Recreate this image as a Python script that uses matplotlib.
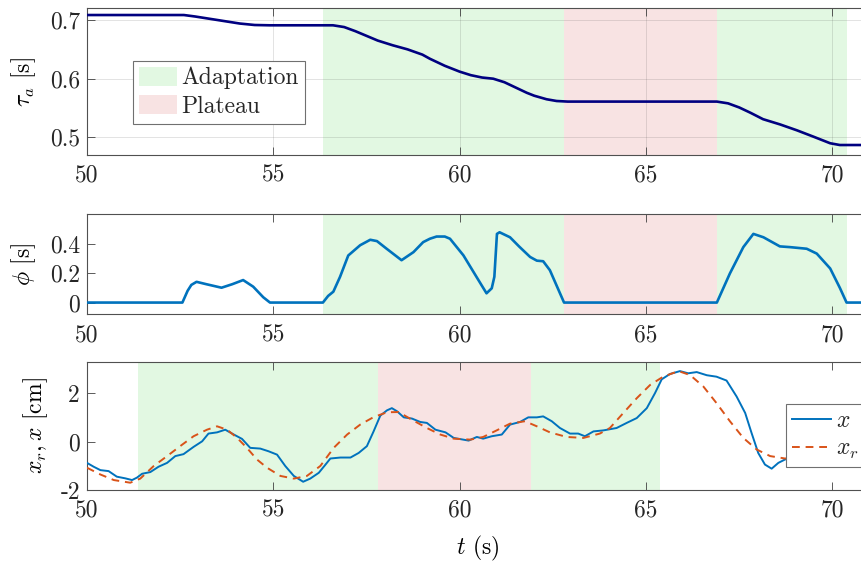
import matplotlib
matplotlib.use("Agg")
import matplotlib.pyplot as plt
from matplotlib.patches import Patch

# tau_a estimate
tau_t = [50, 52.6, 52.9, 53.3, 53.7, 54.1, 54.5, 54.9, 56.6, 56.9, 57.2, 57.5, 57.8, 58.2, 58.6,
         59.0, 59.2, 59.6, 60.0, 60.3, 60.6, 60.9, 61.2, 61.5, 61.8, 62.0, 62.33, 62.6, 62.9,
         66.9, 67.2, 67.5, 67.8, 68.14, 68.6, 69.05, 69.5, 69.94, 70.2, 70.4, 71.0]
tau_v = [0.7085, 0.7085, 0.706, 0.702, 0.698, 0.694, 0.6915, 0.691, 0.691, 0.688, 0.681, 0.673,
         0.665, 0.657, 0.650, 0.641, 0.634, 0.622, 0.612, 0.606, 0.602, 0.600, 0.594, 0.585,
         0.576, 0.571, 0.565, 0.562, 0.561,
         0.561, 0.558, 0.551, 0.542, 0.531, 0.522, 0.512, 0.501, 0.490, 0.487, 0.487, 0.487]

# phi estimate
phi_t = [50, 52.56, 52.7, 52.8, 52.94, 53.2, 53.61, 53.9, 54.19, 54.46, 54.73, 54.91,
         56.33, 56.47, 56.61, 56.79, 57.01, 57.33, 57.6, 57.78, 58.04, 58.44, 58.76, 59.02,
         59.2, 59.38, 59.6, 59.74, 60.1, 60.45, 60.72, 60.86, 60.93, 61.0, 61.07, 61.35, 61.6,
         61.89, 62.07, 62.24, 62.42, 62.8,
         66.9, 67.25, 67.61, 67.88, 68.15, 68.59, 68.86, 69.31, 69.58, 69.94, 70.2, 70.38, 71.0]
phi_v = [0, 0, 0.08, 0.12, 0.141, 0.125, 0.101, 0.125, 0.153, 0.108, 0.036, 0,
         0, 0.045, 0.074, 0.175, 0.32, 0.39, 0.427, 0.418, 0.366, 0.288, 0.343, 0.411,
         0.434, 0.449, 0.449, 0.434, 0.321, 0.175, 0.063, 0.097, 0.175, 0.467, 0.478, 0.444, 0.38,
         0.31, 0.285, 0.281, 0.22, 0,
         0, 0.198, 0.377, 0.467, 0.444, 0.382, 0.377, 0.366, 0.333, 0.232, 0.1, 0, 0]

# position x
x_t = [50, 50.18, 50.36, 50.58, 50.8, 51.03, 51.21, 51.34, 51.48, 51.7, 51.92, 52.15, 52.37,
       52.59, 52.86, 53.09, 53.26, 53.49, 53.71, 53.94, 54.16, 54.38, 54.65, 54.87, 55.1,
       55.32, 55.55, 55.8, 55.99, 56.22, 56.4, 56.53, 56.8, 57.07, 57.29, 57.51, 57.69, 57.87,
       58.05, 58.18, 58.32, 58.5, 58.72, 58.94, 59.12, 59.35, 59.62, 59.84, 60.24, 60.46,
       60.63, 60.86, 61.13, 61.35, 61.62, 61.84, 62.07, 62.24, 62.47, 62.69, 62.96, 63.18,
       63.36, 63.59, 63.85, 64.21, 64.48, 64.75, 65.02, 65.24, 65.42, 65.64, 65.91, 66.13,
       66.36, 66.63, 66.89, 67.16, 67.43, 67.66, 67.83, 68.01, 68.19, 68.37, 68.55, 68.73,
       69.2, 69.8, 70.3, 71.0]
x_v = [-0.88, -1.04, -1.18, -1.22, -1.45, -1.52, -1.59, -1.49, -1.33, -1.26, -1.04, -0.88, -0.60,
       -0.52, -0.22, 0.01, 0.33, 0.38, 0.49, 0.29, 0.11, -0.26, -0.29, -0.40, -0.54,
       -1.01, -1.42, -1.66, -1.53, -1.29, -0.95, -0.70, -0.66, -0.66, -0.47, -0.19, 0.42, 1.07,
       1.29, 1.38, 1.25, 1.00, 0.95, 0.81, 0.77, 0.49, 0.38, 0.15, 0.04, 0.19,
       0.12, 0.22, 0.29, 0.70, 0.81, 1.00, 1.00, 1.04, 0.84, 0.56, 0.33, 0.33,
       0.22, 0.42, 0.46, 0.56, 0.77, 0.97, 1.38, 2.00, 2.57, 2.79, 2.91, 2.82,
       2.87, 2.74, 2.68, 2.52, 1.86, 1.18, 0.36, -0.47, -0.95, -1.12, -0.88, -0.74,
       -0.5, -0.2, 0.2, 0.42]

# reference x_r
xr_t = [50, 50.36, 50.72, 51.16, 51.43, 51.79, 52.15, 52.5, 52.86, 53.22, 53.49, 53.76, 54.03,
        54.29, 54.56, 54.83, 55.19, 55.55, 55.9, 56.26, 56.62, 56.98, 57.33, 57.69, 58.05,
        58.36, 58.72, 59.12, 59.48, 59.84, 60.29, 60.63, 60.99, 61.35, 61.75, 62.07, 62.42,
        62.87, 63.32, 63.76, 64.03, 64.39, 64.75, 65.11, 65.46, 65.87, 66.18, 66.54, 66.89,
        67.25, 67.61, 67.97, 68.33, 68.73, 69.3, 69.8, 70.3, 71.0]
xr_v = [-1.08, -1.36, -1.59, -1.70, -1.53, -1.01, -0.60, -0.19, 0.22, 0.49, 0.63, 0.49, 0.15,
        -0.26, -0.74, -1.08, -1.42, -1.53, -1.42, -1.01, -0.26, 0.29, 0.70, 1.01, 1.21,
        1.22, 0.90, 0.56, 0.29, 0.12, 0.08, 0.19, 0.46, 0.74, 0.84, 0.63, 0.38,
        0.19, 0.15, 0.33, 0.56, 1.18, 1.79, 2.34, 2.68, 2.91, 2.75, 2.27, 1.59,
        0.84, 0.15, -0.33, -0.60, -0.70, -0.6, -0.2, 0.2, 0.45]

# phases (start, end)
adapt_top = [(56.33, 62.80), (66.90, 70.38)]
plateau_top = [(62.80, 66.90)]
adapt_bot = [(51.36, 57.80), (61.90, 65.38)]
plateau_bot = [(57.80, 61.90)]

xticks = [50, 55, 60, 65, 70]
tau_ticks = [0.5, 0.6, 0.7]
phi_ticks = [0, 0.2, 0.4]
phi_ticklabels = ['0', '0.2', '0.4']
x_ticks = [-2, 0, 2]

green = '#e2f8e2'
pink = '#f8e3e3'
blue = '#0072bd'
orange = '#d95319'
navy = '#000080'

plt.rcParams['font.family'] = 'serif'
plt.rcParams['font.serif'] = ['cmr10']
plt.rcParams['mathtext.fontset'] = 'cm'
plt.rcParams['axes.unicode_minus'] = False
plt.rcParams['font.size'] = 17
plt.rcParams['text.color'] = '#262626'

fig = plt.figure(figsize=(8.62, 5.63), dpi=100)
left, width = 0.1009, 0.908
ax1 = fig.add_axes([left, 0.7247, width, 0.2606])
ax2 = fig.add_axes([left, 0.4417, width, 0.1776])
ax3 = fig.add_axes([left, 0.1297, width, 0.2279])


def style(ax):
    ax.set_xlim(50, 71)
    ax.set_xticks(xticks)
    ax.tick_params(direction='in', length=6, width=0.6, color='#404040', labelcolor='#262626',
                   top=True, right=True)
    ax.tick_params(axis='x', pad=7)
    ax.tick_params(axis='y', pad=5)
    for s in ax.spines.values():
        s.set_color('#505050')
        s.set_linewidth(0.8)


for a, b in adapt_top:
    ax1.axvspan(a, b, color=green, lw=0, zorder=1)
    ax2.axvspan(a, b, color=green, lw=0, zorder=1)
for a, b in plateau_top:
    ax1.axvspan(a, b, color=pink, lw=0, zorder=1)
    ax2.axvspan(a, b, color=pink, lw=0, zorder=1)
for a, b in adapt_bot:
    ax3.axvspan(a, b, color=green, lw=0, zorder=1)
for a, b in plateau_bot:
    ax3.axvspan(a, b, color=pink, lw=0, zorder=1)

# top: tau_a
ax1.plot(tau_t, tau_v, color=navy, lw=1.9, zorder=3)
ax1.set_ylim(0.47, 0.72)
ax1.set_yticks(tau_ticks)
ax1.grid(True, color='#262626', alpha=0.15, lw=0.6)
ax1.set_axisbelow('line')
ax1.set_ylabel(r'$\tau_a$ [s]')
ax1.yaxis.set_label_coords(-0.063, 0.5)
style(ax1)
handles = [Patch(facecolor=green, edgecolor='none', label='Adaptation'),
           Patch(facecolor=pink, edgecolor='none', label='Plateau')]
leg1 = ax1.legend(handles=handles, loc='upper left', bbox_to_anchor=(0.0588, 0.641),
                  borderaxespad=0, fancybox=False, framealpha=1, edgecolor='#707070',
                  handlelength=1.6, handleheight=0.85, handletextpad=0.2,
                  labelspacing=0.25, borderpad=0.25)
leg1.get_frame().set_linewidth(0.8)

# middle: phi
ax2.plot(phi_t, phi_v, color=blue, lw=1.9, zorder=3)
ax2.set_ylim(-0.08, 0.6)
ax2.set_yticks(phi_ticks, phi_ticklabels)
ax2.set_ylabel(r'$\phi$ [s]')
ax2.yaxis.set_label_coords(-0.063, 0.5)
style(ax2)

# bottom: x and x_r
ax3.plot(x_t, x_v, color=blue, lw=1.4, zorder=3, label=r'$x$')
ax3.plot(xr_t, xr_v, color=orange, lw=1.4, ls=(0, (4, 3)), zorder=3, label=r'$x_r$')
ax3.set_ylim(-2, 3.3)
ax3.set_yticks(x_ticks)
ax3.set_ylabel(r'$x_r, x$ [cm]')
ax3.yaxis.set_label_coords(-0.047, 0.5)
ax3.set_xlabel(r'$t$ (s)')
ax3.xaxis.set_label_coords(0.5, -0.34)
style(ax3)
leg3 = ax3.legend(loc='upper left', bbox_to_anchor=(0.893, 0.67), borderaxespad=0,
                  fancybox=False, framealpha=1, edgecolor='#707070', handlelength=1.65,
                  handletextpad=0.2, labelspacing=0.25, borderpad=0.25)
leg3.get_frame().set_linewidth(0.8)

fig.savefig('out.png', dpi=100)
